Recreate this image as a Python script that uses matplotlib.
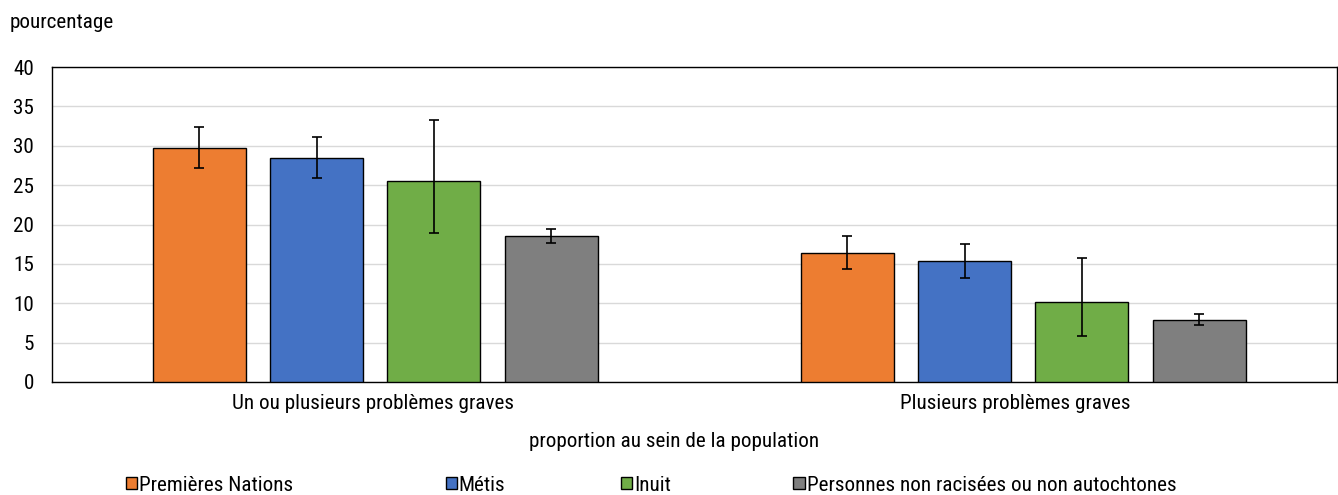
import numpy as np
import matplotlib.pyplot as plt
from matplotlib.patches import Patch

plt.rcParams['font.family'] = ['Roboto Condensed', 'Liberation Sans Narrow', 'Roboto', 'DejaVu Sans']

# data
categories = ['Un ou plusieurs problèmes graves', 'Plusieurs problèmes graves']
groups = ['Premières Nations', 'Métis', 'Inuit', 'Personnes non racisées ou non autochtones']
colors = ['#ED7D31', '#4472C4', '#70AD47', '#7F7F7F']
values = [[29.7, 16.4], [28.4, 15.4], [25.5, 10.2], [18.5, 7.9]]
err_hi = [[32.4, 18.6], [31.1, 17.5], [33.3, 15.7], [19.4, 8.6]]
err_lo = [[27.2, 14.3], [25.9, 13.2], [18.9, 5.9], [17.7, 7.2]]

fs = 15.2

fig = plt.figure(figsize=(13.38, 4.95), dpi=100)
ax = fig.add_axes([0.0389, 0.2283, 0.9603, 0.6363])

x = np.arange(len(categories))
shift = np.array([0.003, 0.0117])  # bars sit a bit right of the category centre
width = 0.1446
step = 0.1825
for i, g in enumerate(groups):
    v = np.array(values[i])
    lo = v - np.array(err_lo[i])
    hi = np.array(err_hi[i]) - v
    pos = x + shift + (i - 1.5) * step
    ax.bar(pos, v, width, color=colors[i], edgecolor='black', linewidth=1, zorder=3)
    ax.errorbar(pos, v, yerr=[lo, hi], fmt='none', ecolor='black',
                elinewidth=1.2, capsize=3.4, capthick=1.2, zorder=4)

ax.set_xlim(-0.5, 1.5)
ax.set_ylim(0, 40)
ax.set_yticks(range(0, 41, 5))
ax.set_xticks(x)
ax.set_xticklabels(categories)
ax.tick_params(axis='both', length=0, labelsize=fs)
ax.tick_params(axis='y', pad=13)
ax.tick_params(axis='x', pad=9)
ax.yaxis.grid(True, color='#D9D9D9', linewidth=1, zorder=0)
for s in ax.spines.values():
    s.set_color('black')
    s.set_linewidth(1)

fig.text(0.0075, 0.955, 'pourcentage', fontsize=fs, va='center', ha='left')
fig.text(0.504, 0.108, 'proportion au sein de la population', fontsize=fs, ha='center', va='center')

handles = [Patch(facecolor=c, edgecolor='black', linewidth=1) for c in colors]
leg_x = [0.094, 0.333, 0.464, 0.593]
for h, lab, lx in zip(handles, groups, leg_x):
    fig.legend([h], [lab], loc='center left', bbox_to_anchor=(lx, 0.02),
               frameon=False, fontsize=fs, handlelength=0.55, handleheight=0.55,
               handletextpad=0.08, borderaxespad=0, borderpad=0)

fig.savefig('out.png', dpi=100)
